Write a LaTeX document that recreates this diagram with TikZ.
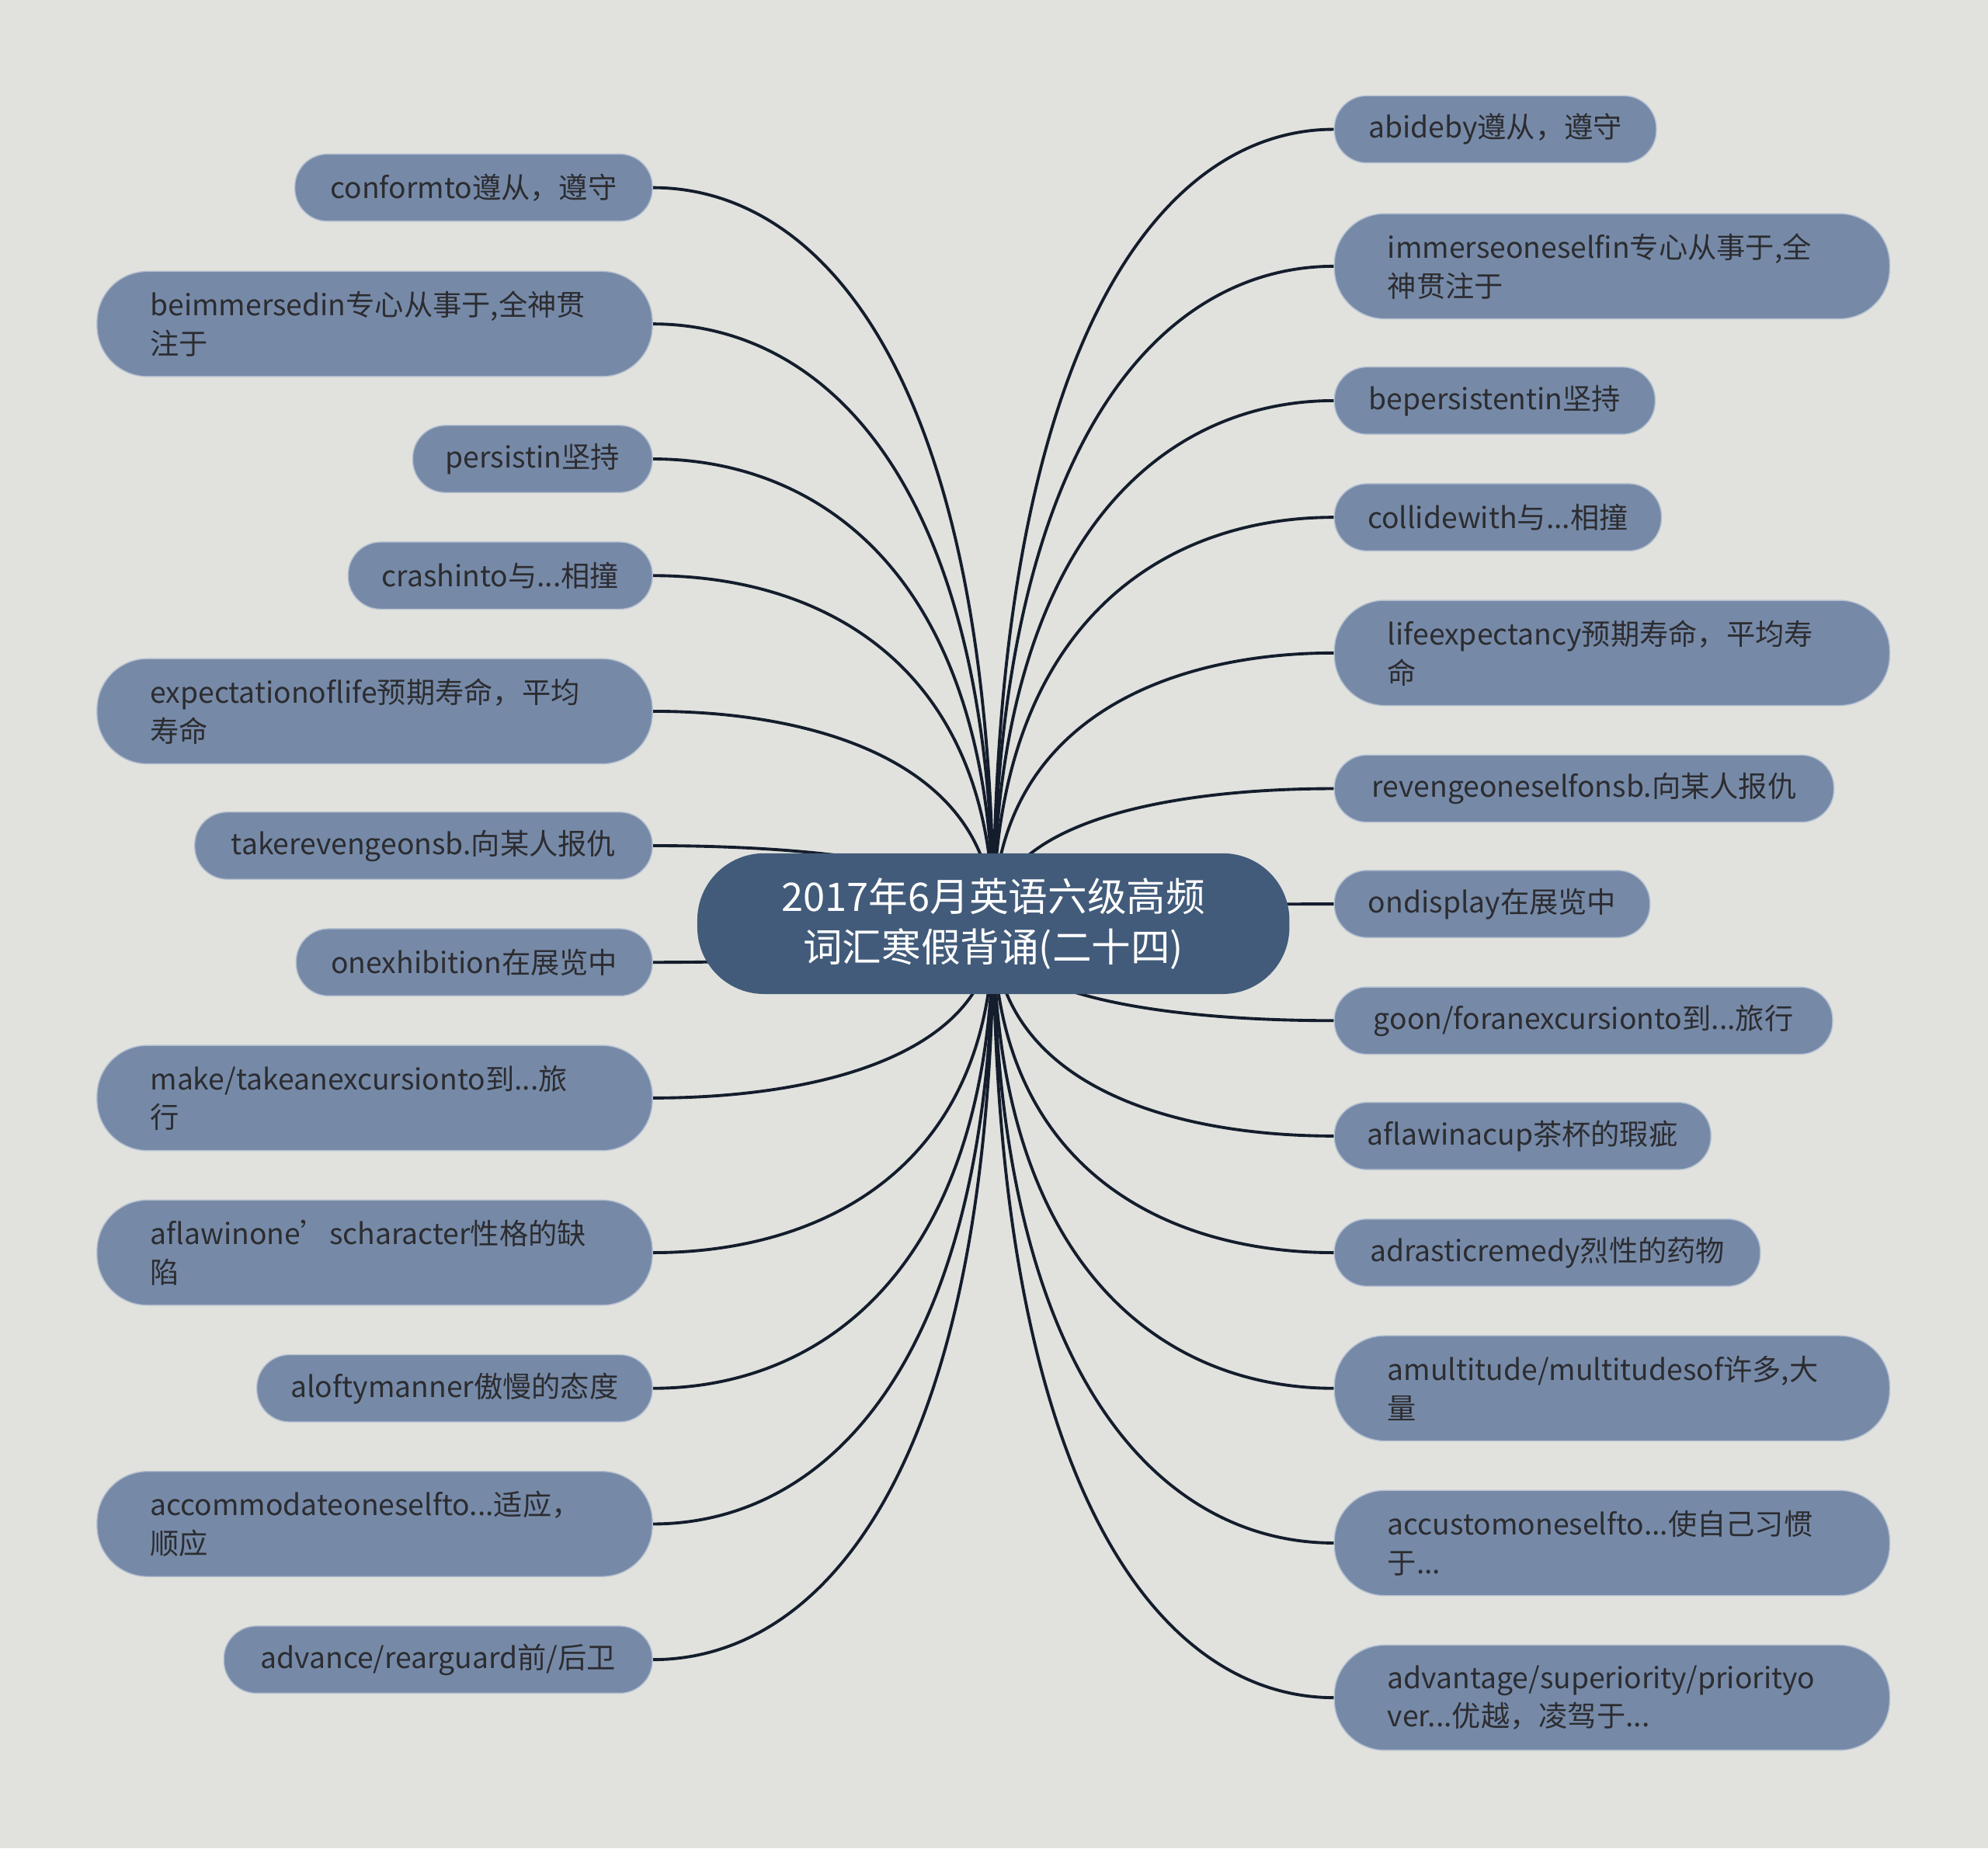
\documentclass[tikz,border=0pt]{standalone}
\usepackage{fontspec}
\setmainfont{Noto Sans CJK SC}
\usepackage{xcolor}
\usepackage{tikz}
\usetikzlibrary{calc}

\definecolor{bgcol}{HTML}{E1E2DE}
\definecolor{leafcol}{HTML}{768AA8}
\definecolor{rootcol}{HTML}{425B7A}
\definecolor{edgecol}{HTML}{141D2C}
\definecolor{textcol}{HTML}{2C2C30}

\pgfdeclarelayer{back}
\pgfsetlayers{back,main}

\begin{document}
\begin{tikzpicture}[
  x=0.16327mm, y=-0.16327mm,
  leaf/.style={fill=leafcol, draw=leafcol!55!white, line width=0.4pt, text=textcol,
    font=\fontsize{10.6pt}{14.2pt}\selectfont, minimum height=8.65mm,
    rounded corners=4.2mm, inner xsep=0pt, inner ysep=0pt},
  wide/.style={leaf, minimum height=13.55mm, rounded corners=6.5mm,
    text width=57.8mm, inner xsep=6.86mm, align=left},
  root/.style={fill=rootcol, text=white, font=\fontsize{14.4pt}{18.5pt}\selectfont,
    minimum width=76.25mm, minimum height=18.12mm, rounded corners=8.6mm,
    inner sep=0pt, align=center},
  edge/.style={draw=edgecol, line width=1.1pt},
]
\useasboundingbox (0,0) rectangle (1568,1458);

% Centre
\node[root] (root) at (783.5,728.5) {2017年6月英语六级高频\\词汇寒假背诵(二十四)};

% Left branch
\node[leaf, anchor=east, minimum width=46.04mm] (conform) at (515,148) {conformto遵从，遵守};
\node[wide, anchor=east] (beimm) at (515,255.5) {beimmersedin专心从事于,全神贯\\注于};
\node[leaf, anchor=east, minimum width=30.86mm] (persist) at (515,362) {persistin坚持};
\node[leaf, anchor=east, minimum width=39.18mm] (crash) at (515,454) {crashinto与...相撞};
\node[wide, anchor=east] (expect) at (515,561) {expectationoflife预期寿命，平均\\寿命};
\node[leaf, anchor=east, minimum width=58.94mm] (takerev) at (515,667) {takerevengeonsb.向某人报仇};
\node[leaf, anchor=east, minimum width=45.88mm] (onexhib) at (515,759) {onexhibition在展览中};
\node[wide, anchor=east] (makeexc) at (515,866) {make/takeanexcursionto到...旅\\行};
\node[wide, anchor=east] (flawchar) at (515,988) {aflawinone’scharacter性格的缺\\陷};
\node[leaf, anchor=east, minimum width=50.94mm] (lofty) at (515,1095) {aloftymanner傲慢的态度};
\node[wide, anchor=east] (accom) at (515,1202) {accommodateoneselfto...适应，\\顺应};
\node[leaf, anchor=east, minimum width=55.19mm] (advance) at (515,1309) {advance/rearguard前/后卫};

% Right branch
\node[leaf, anchor=west, minimum width=41.47mm] (abide) at (1052,102) {abideby遵从，遵守};
\node[wide, anchor=west] (immerse) at (1052,210) {immerseoneselfin专心从事于,全\\神贯注于};
\node[leaf, anchor=west, minimum width=41.31mm] (bepers) at (1052,316) {bepersistentin坚持};
\node[leaf, anchor=west, minimum width=42.12mm] (collide) at (1052,408) {collidewith与...相撞};
\node[wide, anchor=west] (lifeexp) at (1052,515) {lifeexpectancy预期寿命，平均寿\\命};
\node[leaf, anchor=west, minimum width=64.33mm] (revenge) at (1052,622) {revengeoneselfonsb.向某人报仇};
\node[leaf, anchor=west, minimum width=40.65mm] (ondisp) at (1052,713) {ondisplay在展览中};
\node[leaf, anchor=west, minimum width=64.17mm] (goonexc) at (1052,805) {goon/foranexcursionto到...旅行};
\node[leaf, anchor=west, minimum width=48.49mm] (flawcup) at (1052,896) {aflawinacup茶杯的瑕疵};
\node[leaf, anchor=west, minimum width=54.86mm] (drastic) at (1052,988) {adrasticremedy烈性的药物};
\node[wide, anchor=west] (multi) at (1052,1095) {amultitude/multitudesof许多,大\\量};
\node[wide, anchor=west] (accust) at (1052,1217) {accustomoneselfto...使自己习惯\\于...};
\node[wide, anchor=west] (advant) at (1052,1339) {advantage/superiority/priorityo\\ver...优越，凌驾于...};

% Background and connectors
\begin{pgfonlayer}{back}
\fill[bgcol] (0,0) rectangle (1568,1458);
\foreach \n in {conform,beimm,persist,crash,expect,takerev,onexhib,makeexc,flawchar,lofty,accom,advance}
  \draw[edge] (root.center) .. controls ($(root.center)!0.74!(root.center |- \n.east)$)
    and ($(\n.east)!0.5!(root.center |- \n.east)$) .. (\n.east);
\foreach \n in {abide,immerse,bepers,collide,lifeexp,revenge,ondisp,goonexc,flawcup,drastic,multi,accust,advant}
  \draw[edge] (root.center) .. controls ($(root.center)!0.74!(root.center |- \n.west)$)
    and ($(\n.west)!0.5!(root.center |- \n.west)$) .. (\n.west);
\end{pgfonlayer}
\end{tikzpicture}
\end{document}
